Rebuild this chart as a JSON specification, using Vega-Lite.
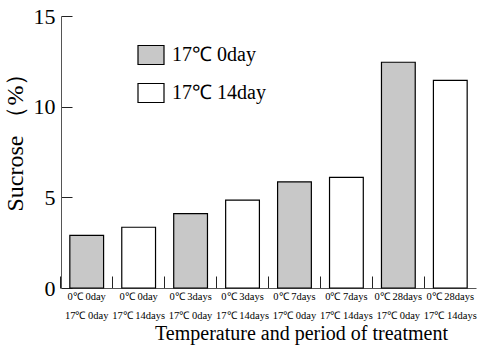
{
  "$schema": "https://vega.github.io/schema/vega-lite/v6.json",
  "autosize": "none",
  "width": 415,
  "height": 272,
  "padding": {"left": 61, "top": 16, "right": 1, "bottom": 57},
  "background": "white",
  "config": {
    "view": {"stroke": null},
    "font": "Liberation Serif",
    "axis": {"grid": false, "domainColor": "#555", "tickColor": "#222", "labelColor": "black", "titleColor": "black", "titleFontWeight": "normal", "labelFont": "Liberation Serif", "titleFont": "Liberation Serif"}
  },
  "data": {
    "values": [
      {"cat": "0℃ 0day|17℃ 0day", "group": "17℃ 0day", "sucrose": 2.9},
      {"cat": "0℃ 0day|17℃ 14days", "group": "17℃ 14day", "sucrose": 3.35},
      {"cat": "0℃ 3days|17℃ 0day", "group": "17℃ 0day", "sucrose": 4.1},
      {"cat": "0℃ 3days|17℃ 14days", "group": "17℃ 14day", "sucrose": 4.85},
      {"cat": "0℃ 7days|17℃ 0day", "group": "17℃ 0day", "sucrose": 5.85},
      {"cat": "0℃ 7days|17℃ 14days", "group": "17℃ 14day", "sucrose": 6.1},
      {"cat": "0℃ 28days|17℃ 0day", "group": "17℃ 0day", "sucrose": 12.45},
      {"cat": "0℃ 28days|17℃ 14days", "group": "17℃ 14day", "sucrose": 11.45}
    ]
  },
  "mark": {"type": "bar", "stroke": "black", "strokeWidth": 1.2},
  "encoding": {
    "x": {
      "field": "cat", "type": "nominal", "sort": null,
      "scale": {"paddingInner": 0.35, "paddingOuter": 0.17},
      "axis": {
        "title": "Temperature and period of treatment",
        "titleFontSize": 20, "titleX": 240, "titleY": 51, "titleBaseline": "alphabetic", "titleAlign": "center",
        "labelAngle": 0, "labelExpr": "isValid(datum.value) ? split(datum.value, '|') : ''",
        "labelFontSize": 10.5, "labelLineHeight": 19, "labelPadding": 15,
        "labelOverlap": false, "labelBaseline": "top",
        "ticks": true, "bandPosition": -0.27, "tickSize": -12, "tickWidth": 1, "domainWidth": 1
      }
    },
    "y": {
      "field": "sucrose", "type": "quantitative",
      "scale": {"domain": [0, 15]},
      "axis": {
        "title": "Sucrose （%）", "titleFontSize": 24, "titlePadding": 6, "titleY": 120,
        "values": [0, 5, 10, 15], "tickSize": -11, "ticks": true,
        "labelFontSize": 22, "labelPadding": 17
      }
    },
    "fill": {
      "field": "group", "type": "nominal",
      "scale": {"domain": ["17℃ 0day", "17℃ 14day"], "range": ["#c8c8c8", "#ffffff"]},
      "legend": {
        "title": null, "orient": "none", "legendX": 76, "legendY": 25,
        "symbolType": "M-1,-0.73H1V0.73H-1Z", "symbolSize": 676,
        "symbolStrokeColor": "black", "symbolStrokeWidth": 1.2,
        "labelFontSize": 20, "labelOffset": 7, "rowPadding": 12,
        "labelFont": "Liberation Serif", "labelColor": "black"
      }
    }
  }
}
